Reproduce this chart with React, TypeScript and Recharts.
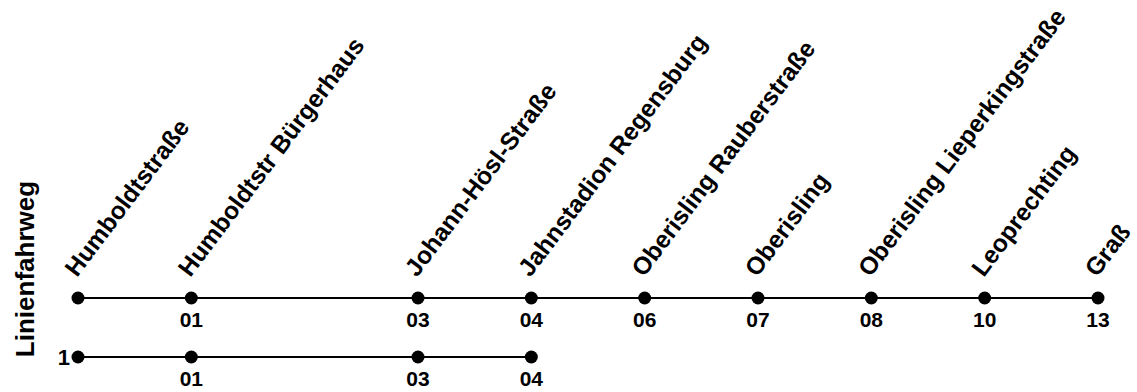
import { LineChart, Line, XAxis, YAxis, LabelList } from 'recharts';

// Haltestellen der Linie (Hauptweg)
const stations = [
  'Humboldtstraße',
  'Humboldtstr Bürgerhaus',
  'Johann-Hösl-Straße',
  'Jahnstadion Regensburg',
  'Oberisling Rauberstraße',
  'Oberisling',
  'Oberisling Lieperkingstraße',
  'Leoprechting',
  'Graß',
];
// Position auf der Achse (Lücke zwischen 01 und 03)
const positions = [0, 1, 3, 4, 5, 6, 7, 8, 9];
const mainCodes = ['', '01', '03', '04', '06', '07', '08', '10', '13'];
const branchCodes = ['', '01', '03', '04'];
const rowLabels = ['1', ''];

const FONT = '"Liberation Sans", Arial, sans-serif';

const data = stations.map((name, i) => ({
  pos: positions[i],
  name,
  main: 1,
  mainCode: mainCodes[i],
  branch: i < branchCodes.length ? 0 : null,
  branchCode: i < branchCodes.length ? branchCodes[i] : null,
}));

const StationLabel = (props: any) => {
  const { x, y, value } = props;
  if (x == null || y == null) return null;
  return (
    <g transform={`translate(${x - 1},${y - 20}) rotate(-53)`}>
      <text x={0} y={0} textAnchor="start" fontFamily={FONT} fontWeight="bold" fontSize={24.6} fill="#000">
        {value}
      </text>
    </g>
  );
};

const CodeLabel = (props: any) => {
  const { x, y, value } = props;
  if (x == null || y == null || !value) return null;
  return (
    <text x={x} y={y + 29} textAnchor="middle" fontFamily={FONT} fontWeight="bold" fontSize={21} fill="#000">
      {value}
    </text>
  );
};

const AxisTitle = (props: any) => {
  const vb = props.viewBox || { x: 0, y: 0 };
  const cx = vb.x + 25;
  const cy = vb.y - 29;
  return (
    <text
      x={cx}
      y={cy}
      transform={`rotate(-90, ${cx}, ${cy})`}
      textAnchor="middle"
      dominantBaseline="central"
      fontFamily={FONT}
      fontWeight="bold"
      fontSize={26}
      fill="#000"
    >
      Linienfahrweg
    </text>
  );
};

const App = () => {
  return (
    <div style={{ position: 'absolute', left: 0, top: 0 }}>
      <LineChart width={1137} height={392} data={data} margin={{ top: 298, right: 39, bottom: 35, left: 0 }}>
        <XAxis dataKey="pos" type="number" domain={[0, 9]} hide />
        <YAxis
          type="number"
          domain={[0, 1]}
          ticks={[0]}
          width={78}
          axisLine={false}
          tickLine={false}
          tickSize={6}
          tickMargin={2}
          tickFormatter={(v: number) => rowLabels[v] ?? ''}
          tick={{ fontFamily: FONT, fontWeight: 'bold', fontSize: 22, fill: '#000' }}
          label={<AxisTitle />}
        />
        <Line
          dataKey="main"
          stroke="#000"
          strokeWidth={2}
          dot={{ r: 6.5, fill: '#000', stroke: 'none' }}
          isAnimationActive={false}
        >
          <LabelList dataKey="name" content={StationLabel} />
          <LabelList dataKey="mainCode" content={CodeLabel} />
        </Line>
        <Line
          dataKey="branch"
          stroke="#000"
          strokeWidth={2}
          dot={{ r: 6.5, fill: '#000', stroke: 'none' }}
          connectNulls={false}
          isAnimationActive={false}
        >
          <LabelList dataKey="branchCode" content={CodeLabel} />
        </Line>
      </LineChart>
    </div>
  );
};

export default App;
